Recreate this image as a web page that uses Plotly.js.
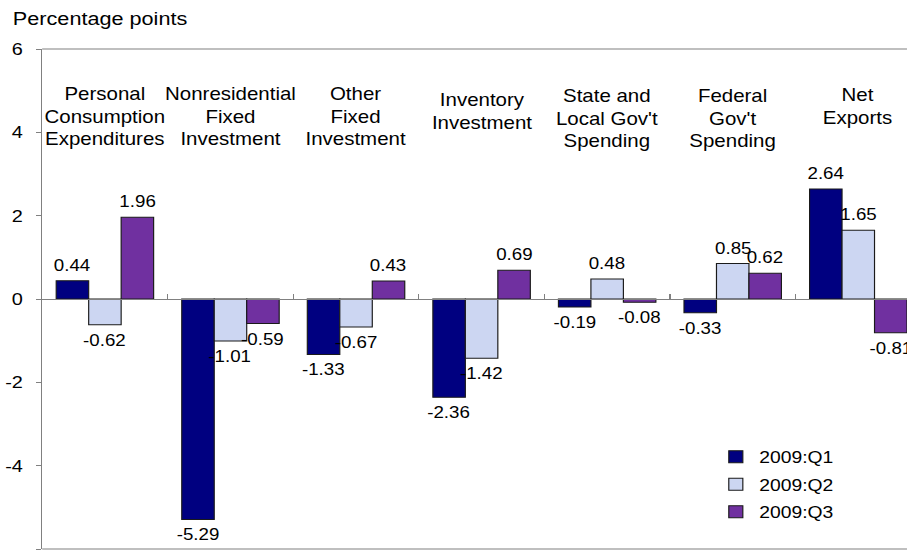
<!DOCTYPE html>
<html>
<head>
<meta charset="utf-8">
<script src="https://cdn.plot.ly/plotly-3.0.1.min.js"></script>
<style>
  html, body { margin: 0; padding: 0; background: #fff; overflow: hidden; }
  #chart { width: 775px; height: 558px; transform: scaleX(1.17032); transform-origin: 0 0; }
</style>
</head>
<body>
<div id="chart"></div>
<script>
// ---- data ----
const categories = [
  'Personal<br>Consumption<br>Expenditures',
  'Nonresidential<br>Fixed<br>Investment',
  'Other<br>Fixed<br>Investment',
  'Inventory<br>Investment',
  "State and<br>Local Gov't<br>Spending",
  "Federal<br>Gov't<br>Spending",
  'Net<br>Exports'
];
const seriesNames = ['2009:Q1', '2009:Q2', '2009:Q3'];
const q1 = [0.44, -5.29, -1.33, -2.36, -0.19, -0.33, 2.64];
const q2 = [-0.62, -1.01, -0.67, -1.42, 0.48, 0.85, 1.65];
const q3 = [1.96, -0.59, 0.43, 0.69, -0.08, 0.62, -0.81];
const yTicks = [-6, -4, -2, 0, 2, 4, 6];

// ---- styling / layout ----
const colors = ['#000080', '#CCD6F2', '#7030A0'];
const series = [q1, q2, q3];
const bargap = 0.224;
const fontFam = 'Liberation Sans, Arial, sans-serif';
const catLabelY = [4.37, 4.37, 4.36, 4.49, 4.32, 4.31, 4.63];

const traces = series.map((vals, j) => ({
  type: 'bar',
  name: seriesNames[j],
  x: categories,
  y: vals,
  legendgroup: 'g' + j,
  marker: { color: colors[j], line: { color: '#1a1a1a', width: 1 } },
  hoverinfo: 'skip'
}));

const annotations = [];
const bw = (1 - bargap) / 3;
series.forEach((vals, j) => {
  vals.forEach((v, i) => {
    annotations.push({
      xref: 'x', yref: 'y',
      x: i + (j - 1) * bw,
      y: v,
      text: v.toFixed(2),
      showarrow: false,
      xanchor: 'center',
      yanchor: v >= 0 ? 'bottom' : 'top',
      yshift: v >= 0 ? 5 : -5,
      font: { family: fontFam, size: 16, color: '#000' }
    });
  });
});
categories.forEach((c, i) => {
  annotations.push({
    xref: 'x', yref: 'y',
    x: i, y: catLabelY[i],
    text: c,
    showarrow: false,
    xanchor: 'center', yanchor: 'middle',
    align: 'center',
    font: { family: fontFam, size: 17.5, color: '#000' }
  });
});

const layout = {
  width: 775, height: 558,
  margin: { l: 36, r: 0, t: 49, b: 9, pad: 0 },
  paper_bgcolor: '#fff', plot_bgcolor: '#fff',
  font: { family: fontFam, color: '#000' },
  barmode: 'group',
  bargap: bargap,
  bargroupgap: 0,
  title: {
    text: 'Percentage points',
    xref: 'container', yref: 'container',
    x: 0.0142, xanchor: 'left',
    y: 0.966, yanchor: 'middle',
    font: { family: fontFam, size: 18.5, color: '#000' }
  },
  xaxis: {
    type: 'category',
    range: [-0.5, 6.388],
    anchor: 'free', position: 0.5,
    showline: true, linecolor: '#808080', linewidth: 1,
    ticks: 'inside', tickson: 'boundaries', ticklen: 5, tickcolor: '#808080',
    showticklabels: false, showgrid: false, zeroline: false,
    fixedrange: true
  },
  yaxis: {
    range: [-6, 6],
    tickvals: yTicks,
    ticktext: yTicks.map(String),
    showline: true, linecolor: '#808080', linewidth: 1,
    ticks: 'outside', ticklen: 4, tickcolor: '#808080',
    ticklabelstandoff: 8,
    showgrid: false, zeroline: false,
    tickfont: { family: fontFam, size: 17, color: '#000' },
    fixedrange: true
  },
  shapes: [
    { type: 'line', xref: 'paper', yref: 'paper', x0: 0, x1: 1, y0: 1, y1: 1, line: { color: '#808080', width: 1 } },
    { type: 'line', xref: 'paper', yref: 'paper', x0: 0, x1: 1, y0: 0, y1: 0, line: { color: '#808080', width: 1 } }
  ],
  showlegend: true,
  legend: {
    x: 0.775, xanchor: 'left',
    y: 0.219, yanchor: 'top',
    bgcolor: 'rgba(0,0,0,0)',
    traceorder: 'grouped',
    tracegroupgap: 3,
    font: { family: fontFam, size: 16.5, color: '#000' }
  },
  annotations: annotations
};

Plotly.newPlot('chart', traces, layout, { displayModeBar: false, staticPlot: true });
</script>
</body>
</html>
